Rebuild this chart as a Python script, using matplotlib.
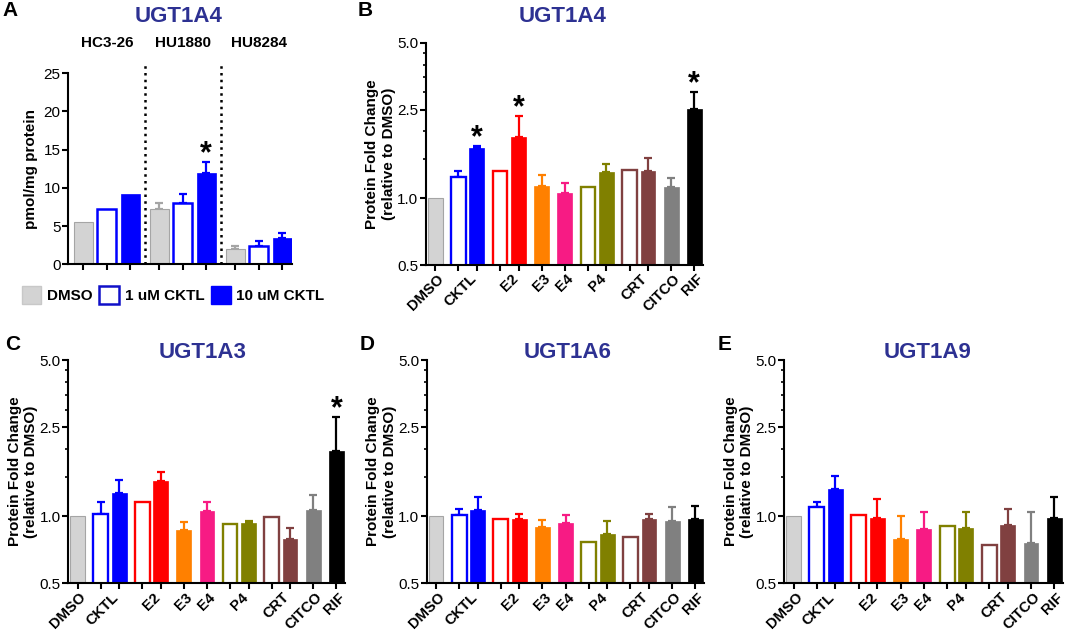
import matplotlib
matplotlib.use("Agg")
import matplotlib.pyplot as plt
import matplotlib.transforms as mtransforms
from matplotlib.patches import Patch
from matplotlib.ticker import FixedLocator, NullFormatter

plt.rcParams['font.family'] = ['Liberation Sans', 'DejaVu Sans']

# ---- panel A data (pmol/mg protein) ----
cell_lines = ['HC3-26', 'HU1880', 'HU8284']
a_treatments = ['DMSO', '1 uM CKTL', '10 uM CKTL']
a_mean = [[5.6, 7.2, 9.2], [7.2, 8.0, 11.9], [1.95, 2.45, 3.4]]
a_err_top = [[0, 0, 0], [8.0, 9.15, 13.4], [2.4, 3.1, 4.05]]
a_star = [[False, False, False], [False, False, True], [False, False, False]]

# ---- panels B-E data (fold change vs DMSO) ----
group_labels = ['DMSO', 'CKTL', 'E2', 'E3', 'E4', 'P4', 'CRT', 'CITCO', 'RIF']
group_sizes = [1, 2, 2, 1, 1, 2, 2, 1, 1]
bar_open = [False, True, False, True, False, False, False, True, False, True, False, False, False]

b_mean = [1.0, 1.24, 1.68, 1.33, 1.89, 1.14, 1.06, 1.12, 1.31, 1.34, 1.33, 1.12, 2.53]
b_err_top = [0, 1.33, 1.72, 0, 2.35, 1.27, 1.165, 0, 1.43, 0, 1.51, 1.235, 3.01]
b_star = [2, 4, 12]

c_mean = [1.0, 1.025, 1.274, 1.16, 1.429, 0.868, 1.057, 0.917, 0.927, 0.986, 0.79, 1.068, 1.96]
c_err_top = [0, 1.157, 1.454, 0, 1.58, 0.939, 1.157, 0, 0.949, 0, 0.883, 1.244, 2.77]
c_star = [12]

d_mean = [1.0, 1.007, 1.061, 0.969, 0.973, 0.898, 0.933, 0.768, 0.829, 0.81, 0.973, 0.946, 0.966]
d_err_top = [0, 1.079, 1.222, 0, 1.025, 0.956, 1.007, 0, 0.946, 0, 1.021, 1.098, 1.109]
d_star = []

e_mean = [1.0, 1.098, 1.328, 1.014, 0.983, 0.79, 0.871, 0.901, 0.886, 0.745, 0.908, 0.758, 0.983]
e_err_top = [0, 1.161, 1.516, 0, 1.197, 1.0, 1.042, 0, 1.042, 0, 1.079, 1.042, 1.218]
e_star = []

group_colors = ['#d3d3d3', '#0000ff', '#ff0000', '#ff8000', '#f71b84',
                '#808000', '#804040', '#808080', '#000000']
title_color = '#2d3192'

W, H = 1065, 631
fig = plt.figure(figsize=(W / 100, H / 100), dpi=100)


def add_axes_px(left, top, right, bottom):
    return fig.add_axes([left / W, 1 - bottom / H, (right - left) / W, (bottom - top) / H])


def style_axes(ax):
    for s in ['top', 'right']:
        ax.spines[s].set_visible(False)
    for s in ['left', 'bottom']:
        ax.spines[s].set_linewidth(1.5)
    ax.tick_params(axis='both', which='major', length=4, width=1.5, pad=1.5,
                   labelsize=11, direction='out')
    ax.tick_params(axis='y', which='minor', length=2.5, width=1.2)


def draw_star(ax, x, y):
    ax.annotate('*', xy=(x, y), xytext=(0, 0), textcoords='offset points',
                ha='center', va='baseline', fontsize=22, fontweight='bold',
                annotation_clip=False)


def draw_bar(ax, x, m, top, color, is_open, width, edge_lw=1.7, bottom=0):
    if color == '#d3d3d3':
        ax.bar(x, m - bottom, width, bottom=bottom, color=color,
               edgecolor='#a5a5a5', linewidth=0.8, zorder=2)
        ecol = '#a5a5a5'
    elif is_open:
        ax.bar(x, m - bottom, width, bottom=bottom, color='white',
               edgecolor=color, linewidth=edge_lw, zorder=2)
        ecol = color
    else:
        ax.bar(x, m - bottom, width, bottom=bottom, color=color,
               edgecolor=color, linewidth=0.5, zorder=2)
        ecol = color
    if top > 0:
        ax.errorbar([x], [m], yerr=[[0], [top - m]], fmt='none', ecolor=ecol,
                    elinewidth=1.6, capsize=2.6, capthick=1.6, zorder=1)


# ---------------- Panel A ----------------
axA = add_axes_px(68.3, 73.3, 292, 264.3)
style_axes(axA)
a_colors = ['#d3d3d3', '#0000ff', '#0000ff']
a_open = [False, True, False]
a_pos = []
for g in range(len(cell_lines)):
    for k in range(len(a_treatments)):
        x = g * 3.25 + k
        a_pos.append(x)
        draw_bar(axA, x, a_mean[g][k], a_err_top[g][k], a_colors[k], a_open[k], 0.82, edge_lw=1.8)
        if a_star[g][k]:
            draw_star(axA, x, a_err_top[g][k])
    axA.text(g * 3.25 + 1, 29.0, cell_lines[g], ha='center', va='center',
             fontsize=11, fontweight='bold', clip_on=False)
for g in range(1, len(cell_lines)):
    xd = g * 3.25 - 0.625
    axA.plot([xd, xd], [0, 26.3], color='black', lw=1.8, linestyle=(0, (1, 1.7)),
             clip_on=False, zorder=3)
axA.set_xlim(-0.65, 8.92)
axA.set_ylim(0, 25)
axA.set_yticks([0, 5, 10, 15, 20, 25])
axA.set_xticks(a_pos)
axA.set_xticklabels([])
axA.set_ylabel('pmol/mg protein', fontsize=11, fontweight='bold')
axA.yaxis.set_label_coords(-30 / 223.7, 0.5)

handles = [Patch(facecolor='#d3d3d3', edgecolor='#c8c8c8'),
           Patch(facecolor='white', edgecolor='#1010c8', linewidth=1.8),
           Patch(facecolor='#0000ff', edgecolor='#0000ff')]
fig.legend(handles, a_treatments, loc='center', bbox_to_anchor=(173 / W, 1 - 295 / H),
           ncol=3, frameon=False, prop={'size': 11, 'weight': 'bold'},
           handlelength=1.3, handleheight=1.35, handletextpad=0.35,
           columnspacing=0.45, borderpad=0)


# ---------------- Panels B-E ----------------
bar_pos = []
xg = 0.0
group_centers = []
for n in group_sizes:
    for k in range(n):
        bar_pos.append(xg + k)
    group_centers.append(xg + (n - 1) / 2)
    xg += n - 1 + 1.25

bar_color = []
for gi, n in enumerate(group_sizes):
    bar_color += [group_colors[gi]] * n


def fold_panel(box, means, tops, stars):
    ax = add_axes_px(*box)
    style_axes(ax)
    ax.set_yscale('log')
    for i, x in enumerate(bar_pos):
        draw_bar(ax, x, means[i], tops[i], bar_color[i], bar_open[i], 0.8, bottom=0.4)
    for i in stars:
        draw_star(ax, bar_pos[i], tops[i])
    ax.set_ylim(0.5, 5.0)
    ax.set_xlim(-0.5, 14.47)
    ax.yaxis.set_major_locator(FixedLocator([0.5, 1.0, 2.5, 5.0]))
    ax.set_yticklabels(['0.5', '1.0', '2.5', '5.0'])
    ax.yaxis.set_minor_locator(FixedLocator([1.5, 2.0, 3.0, 3.5, 4.0, 4.5]))
    ax.yaxis.set_minor_formatter(NullFormatter())
    ax.set_xticks(bar_pos)
    ax.set_xticklabels([])
    trans = mtransforms.blended_transform_factory(ax.transData, ax.transAxes) + \
        mtransforms.ScaledTranslation(0, -8.5 / 72, fig.dpi_scale_trans)
    for gi, lab in enumerate(group_labels):
        ax.text(group_centers[gi] + 0.35, 0, lab, transform=trans, rotation=45,
                rotation_mode='anchor', ha='right', va='center',
                fontsize=10.6, fontweight='bold')
    width_px = box[2] - box[0]
    ax.set_ylabel('Protein Fold Change\n(relative to DMSO)', fontsize=11,
                  fontweight='bold', linespacing=1.25)
    ax.yaxis.set_label_coords(-30 / width_px, 0.5)
    return ax


fold_panel((426, 43, 703, 265), b_mean, b_err_top, b_star)
fold_panel((68.3, 360, 345, 583.3), c_mean, c_err_top, c_star)
fold_panel((426.7, 360, 704, 583.3), d_mean, d_err_top, d_star)
fold_panel((784.3, 360, 1063, 583.3), e_mean, e_err_top, e_star)

# titles and panel letters
titles = [('UGT1A4', 179, 16), ('UGT1A4', 563, 16), ('UGT1A3', 203, 352),
          ('UGT1A6', 568, 352), ('UGT1A9', 928, 352)]
for t, x, y in titles:
    fig.text(x / W, 1 - y / H, t, ha='center', va='center', fontsize=16,
             fontweight='bold', color=title_color)

letters = [('A', 2, 11), ('B', 358, 11), ('C', 5, 344), ('D', 360, 345), ('E', 718, 345)]
for t, x, y in letters:
    fig.text(x / W, 1 - y / H, t, ha='left', va='center', fontsize=15,
             fontweight='bold')

fig.savefig('out.png', dpi=100)
